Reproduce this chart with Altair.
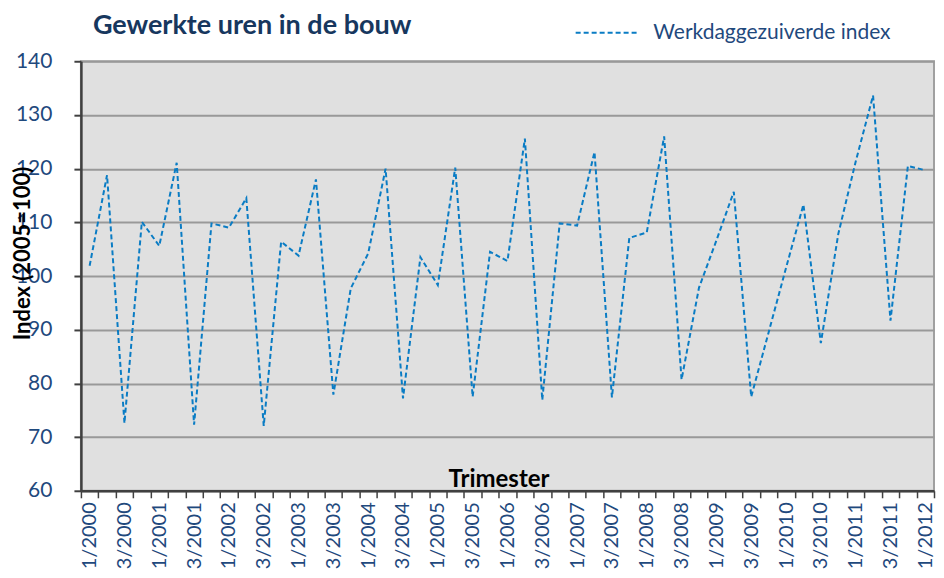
import altair as alt
import pandas as pd

quarters = [f"{q}/{y}" for y in range(2000, 2012) for q in (1, 2, 3, 4)] + ["1/2012"]
index_values = [101.9, 118.8, 72.6, 110.1, 105.6, 121.1, 72.3, 109.8, 109.0, 114.5,
                72.1, 106.4, 103.8, 118.0, 77.9, 97.7, 104.2, 120.0, 77.2, 103.5,
                98.3, 120.2, 77.5, 104.5, 102.8, 125.6, 76.9, 109.8, 109.4, 123.1,
                77.4, 107.1, 108.1, 126.0, 80.7, 97.8, 106.6, 115.7, 77.5, 89.5,
                101.5, 113.3, 87.5, 107.8, 121.3, 133.6, 91.7, 120.5, 119.7]
series_name = "Werkdaggezuiverde index"
y_ticks = [60, 70, 80, 90, 100, 110, 120, 130, 140]

df = pd.DataFrame({"Trimester": quarters, "Index": index_values, "Reeks": series_name})

NAVY = "#1F497D"
FONT = "Lato"

chart = alt.Chart(df).mark_line(
    strokeDash=[5, 3], strokeWidth=2
).encode(
    x=alt.X("Trimester:N", sort=quarters,
            scale=alt.Scale(type="band", paddingInner=0, paddingOuter=0),
            axis=alt.Axis(
                title="Trimester", titleFont=FONT, titleFontSize=24, titleFontWeight="bold",
                titleColor="black", titleX=418, titleY=-11, titleBaseline="middle",
                titleAlign="center",
                labelAngle=-90, labelFont=FONT, labelFontSize=20, labelColor=NAVY,
                labelOverlap=False, labelPadding=4,
                labelExpr="(indexof(datum.label,'2/')==0 || indexof(datum.label,'4/')==0) ? '' : datum.label",
                tickBand="extent", tickSize=7, tickColor="#404040", tickWidth=1.5,
                domainColor="#404040", domainWidth=2.5, grid=False)),
    y=alt.Y("Index:Q", scale=alt.Scale(domain=[60, 140], nice=False, zero=False),
            axis=alt.Axis(
                values=y_ticks, title="Index  (2005=100)", titleFont=FONT, titleFontSize=22,
                titleFontWeight="bold", titleColor="black", titleAngle=-90,
                titleX=-58, titleY=192, titleAlign="center", titleBaseline="middle",
                labelFont=FONT, labelFontSize=21, labelColor=NAVY, labelPadding=22,
                tickSize=7, tickColor="#404040", tickWidth=2,
                domainColor="#404040", domainWidth=2.5,
                grid=True, gridColor="#999999", gridWidth=2)),
    color=alt.Color("Reeks:N", scale=alt.Scale(range=["#0A7CC4"]),
                    legend=alt.Legend(title=None, orient="none", legendX=494, legendY=-61,
                                      symbolType="stroke", symbolSize=3900,
                                      symbolDash=[5, 3], symbolStrokeWidth=2,
                                      labelFont=FONT, labelFontSize=21, labelColor=NAVY,
                                      labelOffset=14, labelLimit=0)),
).properties(
    width=854, height=430,
    title=alt.Title("Gewerkte uren in de bouw", anchor="start", frame="group",
                    font=FONT, fontSize=27, fontWeight="bold", color="#17375E",
                    dx=12, dy=56, offset=16),
    autosize=alt.AutoSizeParams(type="none"),
    padding={"left": 73, "top": 53, "right": 2, "bottom": 80},
).configure_view(
    fill="#E0E0E0", stroke="#A0A0A0", strokeWidth=2
)

chart.save("out.html", embed_options={"renderer": "svg", "actions": False})
